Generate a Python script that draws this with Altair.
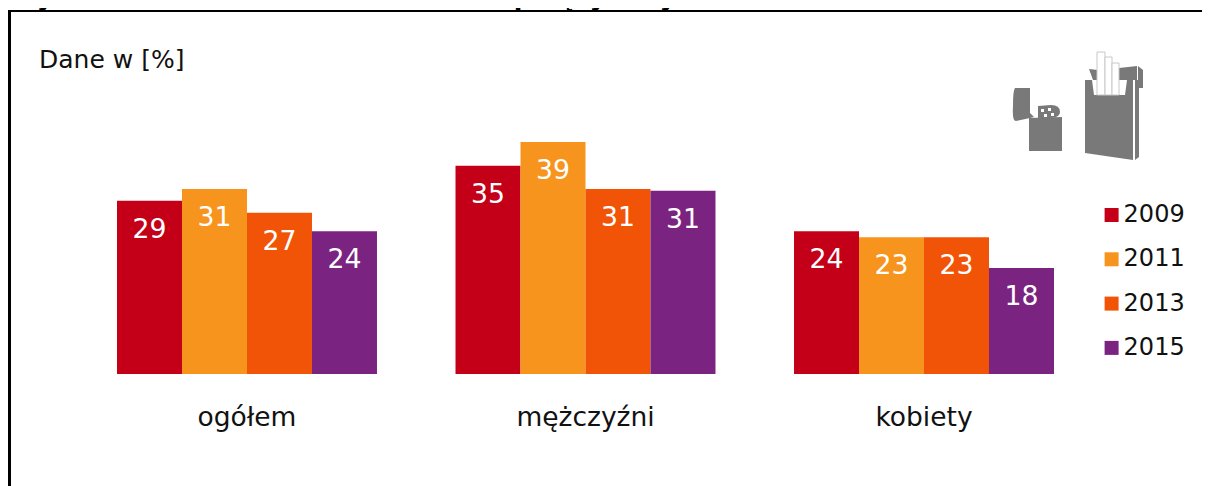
import altair as alt
import pandas as pd

categories = ["ogółem", "mężczyźni", "kobiety"]
years = ["2009", "2011", "2013", "2015"]
colors = ["#C40018", "#F7941E", "#F25407", "#7B2380"]
ogolem = [29.1, 31.1, 27.1, 24.0]
mezczyzni = [35.0, 39.0, 31.1, 30.8]
kobiety = [24.0, 23.0, 23.0, 17.8]
title_text = "Wykres 1.Odsetek osób codziennie palących tytoń – lata 2009-2015."
unit_text = "Dane w [%]"

rows = []
for cat, series in zip(categories, [ogolem, mezczyzni, kobiety]):
    for year, v in zip(years, series):
        rows.append({"cat": cat, "year": year, "v": v})
df = pd.DataFrame(rows)

FONT = "DejaVu Sans"
xs = alt.X("cat:N", sort=categories, title=None,
           scale=alt.Scale(domain=categories, range=[109, 1046], paddingInner=0.232, paddingOuter=0),
           axis=alt.Axis(labelAngle=0, labelFontSize=26.5, labelFont=FONT, labelColor="#111111",
                         ticks=False, domain=False, grid=False, labelPadding=30))
ys = alt.Y("v:Q", title=None, axis=None, scale=alt.Scale(domain=[0, 366 / 5.95], nice=False, zero=True))
off = alt.XOffset("year:N", sort=years, scale=alt.Scale(domain=years, paddingInner=0, paddingOuter=0))
col = alt.Color("year:N", sort=years, scale=alt.Scale(domain=years, range=colors), title=None,
                legend=alt.Legend(orient="none", legendX=1091.6, legendY=195, symbolType="square",
                                  symbolSize=196, symbolStrokeWidth=0, symbolOpacity=1,
                                  labelFontSize=24, labelFont=FONT, labelColor="#111111",
                                  labelOffset=0, rowPadding=20.3, padding=0))

bars = alt.Chart(df).mark_bar(opacity=1).encode(x=xs, y=ys, xOffset=off, color=col)
labels = alt.Chart(df).mark_text(color="white", fontSize=26.7, font=FONT, baseline="middle", dy=29).encode(
    x=alt.X("cat:N", sort=categories), y=alt.Y("v:Q"), xOffset=off, text=alt.Text("v:Q", format=".0f"))

one = pd.DataFrame({"t": [title_text]})
unit_df = pd.DataFrame({"t": [unit_text]})
title = alt.Chart(one).mark_text(font=FONT, fontSize=25.2, fontWeight="bold", align="left", baseline="alphabetic",
                                 color="#000000").encode(x=alt.value(1), y=alt.value(-2), text="t:N")
unit = alt.Chart(unit_df).mark_text(font=FONT, fontSize=25, align="left", baseline="alphabetic",
                                    color="#111111").encode(x=alt.value(31), y=alt.value(60), text="t:N")
top = alt.Chart(one).mark_rule(color="#000000", strokeWidth=2).encode(
    x=alt.value(0), x2=alt.value(1194), y=alt.value(3))
left = alt.Chart(one).mark_rule(color="#000000", strokeWidth=3).encode(
    x=alt.value(1.5), y=alt.value(2), y2=alt.value(478))

GRAY = "#797979"
gray_paths = [
    # lighter lid, body, chimney
    "M1007 80 L1022 80 L1022 105 L1026 109 L1022 110 L1008 113 Q1004 113 1005 98 Q1005 82 1007 80 Z",
    "M1021 110 L1054 109 L1054 143 L1021 143 Z",
    "M1030 98 L1043 97 Q1052 97 1052 104 Q1052 109 1044 110 L1030 110 Z",
    # pack body with notch, side, lid pieces
    "M1077 72 L1084 72 L1086 87 L1117 87 L1119 72 L1125 72 L1125 152 L1077 145 Z",
    "M1127 72 L1131 72 L1131 149 L1127 152 Z",
    "M1081 61 L1090 62 L1090 72 L1085 72 Z",
    "M1111 60 L1129 58 L1129 72 L1111 72 Z",
    "M1130 58 L1135 62 L1135 80 L1130 80 Z",
]
white_paths = [
    # lighter holes
    "M1033 101 h3 v3 h-3 Z M1040 100 h3 v3 h-3 Z M1036 106 h3 v3 h-3 Z M1043 105 h3 v3 h-3 Z",
]
cig_paths = [
    "M1089 44 L1097 44 L1097 87 L1089 87 Z",
    "M1097 49 L1104 49 L1104 87 L1097 87 Z",
    "M1104 55 L1111 55 L1111 87 L1104 87 Z",
]
def icon(path, fill, stroke=None):
    kw = dict(shape=path, size=4, filled=True, fill=fill, opacity=1)
    if stroke:
        kw.update(stroke=stroke, strokeWidth=1)
    else:
        kw.update(strokeWidth=0)
    return alt.Chart(one).mark_point(**kw).encode(x=alt.value(0), y=alt.value(0))

icons = [icon(p, GRAY) for p in gray_paths] + [icon(p, "#FFFFFF") for p in white_paths] + \
        [icon(p, "#FFFFFF", "#C8C8C8") for p in cig_paths]

chart = alt.layer(bars, labels, title, unit, top, left, *icons).properties(
    width=1194, height=366,
    padding={"left": 0, "top": 0, "right": 0, "bottom": 112},
    autosize=alt.AutoSizeParams(type="none"),
    background="white",
).configure_view(stroke=None)

chart.save("out.html", embed_options={"renderer": "svg", "actions": False})
